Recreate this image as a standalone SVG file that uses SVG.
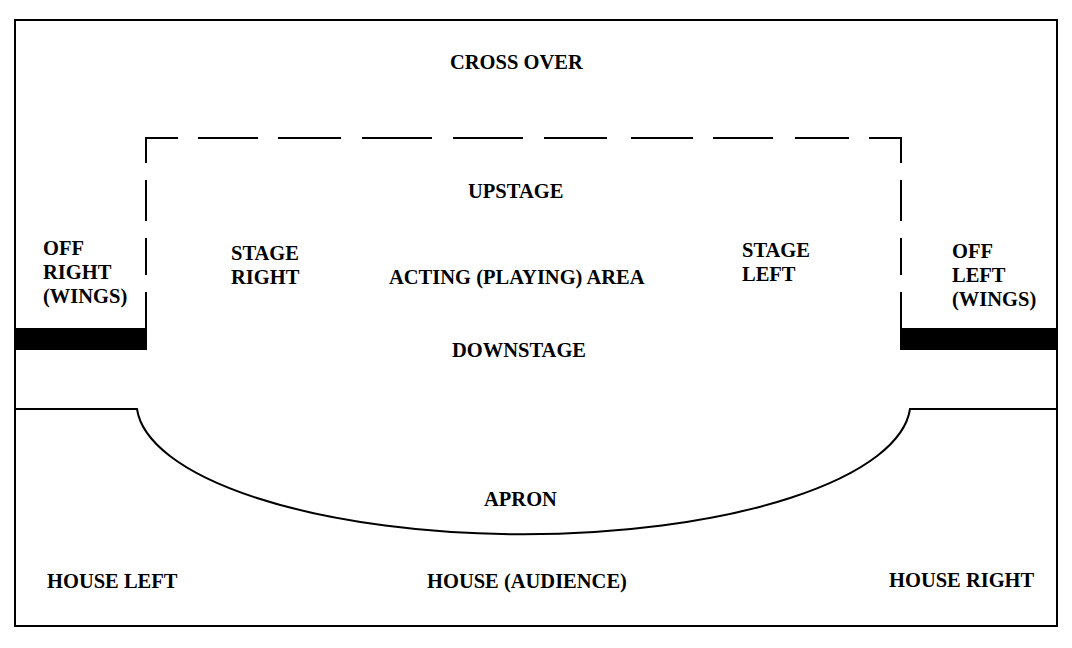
<svg xmlns="http://www.w3.org/2000/svg" width="1072" height="648" viewBox="0 0 1072 648">
<style>
.ln{fill:none;stroke:#000;stroke-width:2;}
.bar{fill:#000;}
.t{font-family:"Liberation Serif","Times New Roman",serif;font-weight:bold;font-size:20.5px;fill:#000;}
</style>
<rect x="0" y="0" width="1072" height="648" fill="#fff"/>
<g id="outline">
<rect class="ln" x="15" y="20" width="1042" height="606"/>
</g>
<g id="connectors">
<g id="acting-area-border" class="ln">
<path d="M146,138H178M198,138H258M278,138H341M362,138H432M453,138H523M544,138H607M631,138H693M713,138H773M795,138H849M869,138H901"/>
<path d="M146,137V163M146,180V221M146,238V275M146,292V329"/>
<path d="M901,137V163M901,180V221M901,238V275M901,292V329"/>
</g>
<g id="apron-edge">
<path class="ln" d="M15,409H137A387,132 0 0 0 910,409H1057"/>
</g>
</g>
<g id="proscenium-left"><rect class="bar" x="15" y="328" width="132" height="22"/></g>
<g id="proscenium-right"><rect class="bar" x="900" y="328" width="157" height="22"/></g>
<g id="cross-over"><text class="t" x="450" y="69">CROSS OVER</text></g>
<g id="upstage"><text class="t" x="468" y="198">UPSTAGE</text></g>
<g id="off-right"><text class="t" x="43" y="255">OFF</text><text class="t" x="43" y="279">RIGHT</text><text class="t" x="43" y="303">(WINGS)</text></g>
<g id="stage-right"><text class="t" x="231" y="260">STAGE</text><text class="t" x="231" y="284">RIGHT</text></g>
<g id="acting-area"><text class="t" x="389" y="284">ACTING (PLAYING) AREA</text></g>
<g id="stage-left"><text class="t" x="742" y="257">STAGE</text><text class="t" x="742" y="281">LEFT</text></g>
<g id="off-left"><text class="t" x="952" y="258">OFF</text><text class="t" x="952" y="282">LEFT</text><text class="t" x="952" y="306">(WINGS)</text></g>
<g id="downstage"><text class="t" x="452" y="357">DOWNSTAGE</text></g>
<g id="apron"><text class="t" x="484" y="506">APRON</text></g>
<g id="house-left"><text class="t" x="47" y="588">HOUSE LEFT</text></g>
<g id="house-audience"><text class="t" x="427" y="588">HOUSE (AUDIENCE)</text></g>
<g id="house-right"><text class="t" x="889" y="587">HOUSE RIGHT</text></g>
</svg>
